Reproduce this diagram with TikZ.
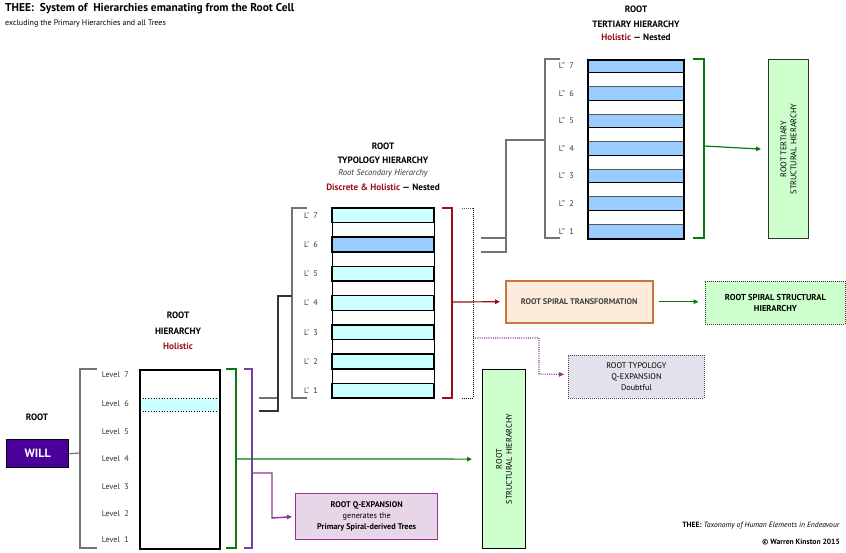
\documentclass[tikz,border=0pt]{standalone}
\usepackage{fontspec}
\setmainfont{PT Sans}
\usetikzlibrary{arrows.meta,calc}
\definecolor{cyanf}{HTML}{CCFFFF}
\definecolor{bluef}{HTML}{99CCFF}
\definecolor{willf}{HTML}{4B0099}
\definecolor{dred}{HTML}{9A0F1A}
\definecolor{dgreen}{HTML}{0A7A0A}
\definecolor{lgreen}{HTML}{CCFFCC}
\definecolor{vpurple}{HTML}{7A3FA0}
\definecolor{mpurple}{HTML}{933393}
\definecolor{peach}{HTML}{FDEBDB}
\definecolor{peachb}{HTML}{C8763C}
\definecolor{lav}{HTML}{E4E0EC}
\definecolor{pinkl}{HTML}{E8D6E8}
\definecolor{lblgray}{HTML}{333340}
\begin{document}
\begin{tikzpicture}[x=1pt,y=-1pt,
  tip/.style={-{Triangle[length=5pt,width=4.5pt]}},
  gconn/.style={draw=gray!90!black,line width=1.2pt},
  lvl/.style={anchor=east,font=\fontsize{8.2}{9}\selectfont,text=lblgray,inner sep=0pt},
  head/.style={font=\fontsize{9.2}{10}\selectfont\bfseries,inner sep=0pt},
  box/.style={draw,anchor=north west,inner sep=0pt,align=center,font=\fontsize{8.2}{10}\selectfont},
  band/.style={draw=black,line width=1.5pt},
]
\useasboundingbox (0,0) rectangle (846,552);
% titles
\node[anchor=west,inner sep=0pt,font=\fontsize{11.4}{13}\selectfont\bfseries] (title) at (5,9) {THEE:\ \ System of\ \ Hierarchies emanating from the Root Cell};
\node[anchor=west,inner sep=0pt,font=\fontsize{8}{9}\selectfont] (subtitle) at (5,24) {excluding the Primary Hierarchies and all Trees};

% ===== Root hierarchy =====
\node[head] (rhA) at (178,315) {ROOT};
\node[head] (rhB) at (178,331) {HIERARCHY};
\node[head,text=dred] (rhC) at (178,346) {Holistic};
\fill[cyanf] (140,398) rectangle (218,411);
\draw[dotted,line width=0.7pt] (140,398) -- (218,398) (140,411) -- (218,411);
\node[draw,line width=1.6pt,anchor=north west,minimum width=80pt,minimum height=179pt,inner sep=0pt] (rh) at (139,369) {};
\foreach \n/\y in {7/375,6/404,5/432,4/459,3/487,2/514,1/540}
  \node[lvl] (lev\n) at (129,\y) {Level\ \ \n};
\coordinate (rbT) at (97,369); \coordinate (rbB) at (97,548);
\draw[gconn] (rbT) -- (80,369) -- (80,548) -- (rbB);
\node[head] (rootlbl) at (37,417) {ROOT};
\node[draw=black,line width=1.4pt,fill=willf,anchor=north west,minimum width=62pt,minimum height=28pt,inner sep=0pt,text=white,font=\fontsize{12}{13}\selectfont\bfseries] (will) at (6,439) {WILL};
\draw[gconn] (will.east) -- (80,453);
% green and purple brackets
\coordinate (gT) at (226,369); \coordinate (gB) at (226,548);
\draw[dgreen,line width=1.5pt] (gT) -- (236,369) -- (236,548) -- (gB);
\coordinate (pT) at (244,369); \coordinate (pB) at (244,548);
\draw[vpurple,line width=1.5pt] (pT) -- (252,369) -- (252,548) -- (pB);

% ===== Root structural hierarchy =====
\node[box,fill=lgreen,line width=1.2pt,minimum width=43pt,minimum height=179pt] (rsh) at (482,369) {};
\node[rotate=90,align=center,font=\fontsize{8.2}{10}\selectfont,inner sep=0pt] (rshT) at (rsh.center) {ROOT\\STRUCTURAL HIERARCHY};
\draw[dgreen,line width=1.2pt,tip] (236,459) -- ($(rsh.west)+(-10,0)$ |- 0,459);

% ===== Root Q-expansion =====
\node[box,fill=pinkl,draw=mpurple,line width=1.4pt,minimum width=142pt,minimum height=46pt,font=\fontsize{8.2}{11}\selectfont] (rqe) at (295,493) {\textbf{ROOT Q-EXPANSION}\\generates the\\\textbf{Primary Spiral-derived Trees}};
\draw[mpurple,line width=1.4pt,tip] (252,473) -- (272,473) -- (272,518) -- ($(rqe.west)+(-3,0)$);

% ===== Typology hierarchy =====
\node[head] (thA) at (383,146) {ROOT};
\node[head] (thB) at (383,160) {TYPOLOGY HIERARCHY};
\node[inner sep=0pt,font=\fontsize{8.6}{9}\selectfont\itshape,text=lblgray] (thC) at (383,173) {Root Secondary Hierarchy};
\node[head] (thD) at (383,187) {\textcolor{dred}{Discrete \& Holistic} — Nested};
\node[draw,line width=0.7pt,anchor=north west,minimum width=102pt,minimum height=190pt,inner sep=0pt] (th) at (332,208) {};
\foreach \i/\n in {0/7,2/6,4/5,6/4,8/3,10/2,12/1}{
  \pgfmathsetmacro{\ya}{208+\i*14.615}
  \pgfmathsetmacro{\yb}{208+(\i+1)*14.615}
  \ifnum\n=6 \def\bc{bluef}\else\def\bc{cyanf}\fi
  \draw[band,fill=\bc] (332,\ya) rectangle (434,\yb);
  \node[lvl] (tl\n) at (318,{(\ya+\yb)/2}) {L’\ \ \n};
}
\coordinate (tbT) at (307,208); \coordinate (tbB) at (307,398);
\draw[gconn] (tbT) -- (292,208) -- (292,398) -- (tbB);
% connector root -> typology
\coordinate (c1a) at (259,398); \coordinate (c1b) at (259,411);
\draw[gconn] (c1a) -- (278,398);
\draw[gconn,draw=black!80] (c1b) -- (278,411) -- (278,296) -- (292,296);
% red bracket
\coordinate (rT) at (442,208); \coordinate (rB) at (442,398);
\draw[dred,line width=1.5pt] (rT) -- (452,208) -- (452,398) -- (rB);
% dotted bracket
\coordinate (dT) at (462,208); \coordinate (dB) at (462,398);
\draw[vpurple,line width=0.9pt,dash pattern=on 1pt off 1pt] (dT) -- (473,208);
\draw[black,line width=0.9pt,dash pattern=on 1pt off 1pt] (473,208) -- (473,398) -- (dB);

% ===== Spiral transformation etc =====
\node[box,fill=peach,draw=peachb,line width=1.5pt,minimum width=147pt,minimum height=42pt,text=black!75] (rst) at (505,280) {\textbf{ROOT SPIRAL TRANSFORMATION}};
\draw[dred,line width=1.2pt,tip] (452,302) -- ($(rst.west)+(-5,0)$);
\node[box,fill=lgreen,draw=black!80,dash pattern=on 1pt off 1pt,line width=0.9pt,minimum width=140pt,minimum height=43pt,font=\fontsize{8.6}{10.5}\selectfont] (rss) at (705,281) {\textbf{ROOT SPIRAL STRUCTURAL}\\\textbf{HIERARCHY}};
\draw[dgreen,line width=1.2pt,tip] ($(rst.east)+(5,0)$) -- ($(rst.east)+(45,0)$);
\node[box,fill=lav,draw=black!70,dash pattern=on 1pt off 1pt,line width=0.9pt,minimum width=136pt,minimum height=43pt,font=\fontsize{8.2}{11}\selectfont] (rtq) at (568,355) {ROOT TYPOLOGY\\Q-EXPANSION\\Doubtful};
\draw[mpurple,line width=1.1pt,dash pattern=on 1pt off 1.2pt,tip] (473,338) -- (539,338) -- (539,374) -- ($(rtq.west)+(-4,-2.5)$);

% ===== Tertiary hierarchy =====
\node[head] (teA) at (636,9) {ROOT};
\node[head] (teB) at (636,24) {TERTIARY HIERARCHY};
\node[head] (teC) at (636,37) {\textcolor{dred}{Holistic} — Nested};
\foreach \i in {0,...,12}{
  \pgfmathsetmacro{\ya}{59+\i*13.77}
  \pgfmathsetmacro{\yb}{59+(\i+1)*13.77}
  \pgfmathparse{int(mod(\i,2))}
  \ifnum\pgfmathresult=0
    \draw[black!65,line width=1pt,fill=bluef] (587,\ya) rectangle (683,\yb);
  \else
    \draw[black,line width=1pt,fill=white] (587,\ya) rectangle (683,\yb);
  \fi
}
\node[draw,line width=1.5pt,anchor=north west,minimum width=96pt,minimum height=179pt,inner sep=0pt] (te) at (587,59) {};
\foreach \i/\n in {0/7,2/6,4/5,6/4,8/3,10/2,12/1}{
  \node[lvl] (tel\n) at (574,{59+(\i+0.5)*13.77}) {L"\ \ \n};
}
\coordinate (ebT) at (560,59); \coordinate (ebB) at (560,238);
\draw[gconn] (ebT) -- (545,59) -- (545,238) -- (ebB);
\coordinate (c2a) at (481,238); \coordinate (c2b) at (481,252);
\draw[gconn] (c2a) -- (506,238);
\draw[gconn] (c2b) -- (506,252) -- (506,140) -- (545,140);
\coordinate (g2T) at (693,59); \coordinate (g2B) at (693,238);
\draw[dgreen,line width=1.5pt] (g2T) -- (704,59) -- (704,238) -- (g2B);
\node[box,fill=lgreen,line width=1.2pt,draw=black!80,minimum width=40pt,minimum height=179pt] (rtsh) at (768,59) {};
\node[rotate=90,align=center,font=\fontsize{8.2}{10}\selectfont,inner sep=0pt] (rtshT) at (rtsh.center) {ROOT TERTIARY\\STRUCTURAL HIERARCHY};
\draw[dgreen,line width=1.2pt,tip] (704,146) -- ($(rtsh.west)+(-7,0)$);

% footer
\node[anchor=east,inner sep=0pt,font=\fontsize{7.6}{8}\selectfont] (foot1) at (840,526) {\textbf{THEE:} \textit{Taxonomy of Human Elements in Endeavour}};
\node[anchor=east,inner sep=0pt,font=\fontsize{7.6}{8}\selectfont\bfseries] (foot2) at (840,542) {© Warren Kinston 2015};
\end{tikzpicture}
\end{document}
